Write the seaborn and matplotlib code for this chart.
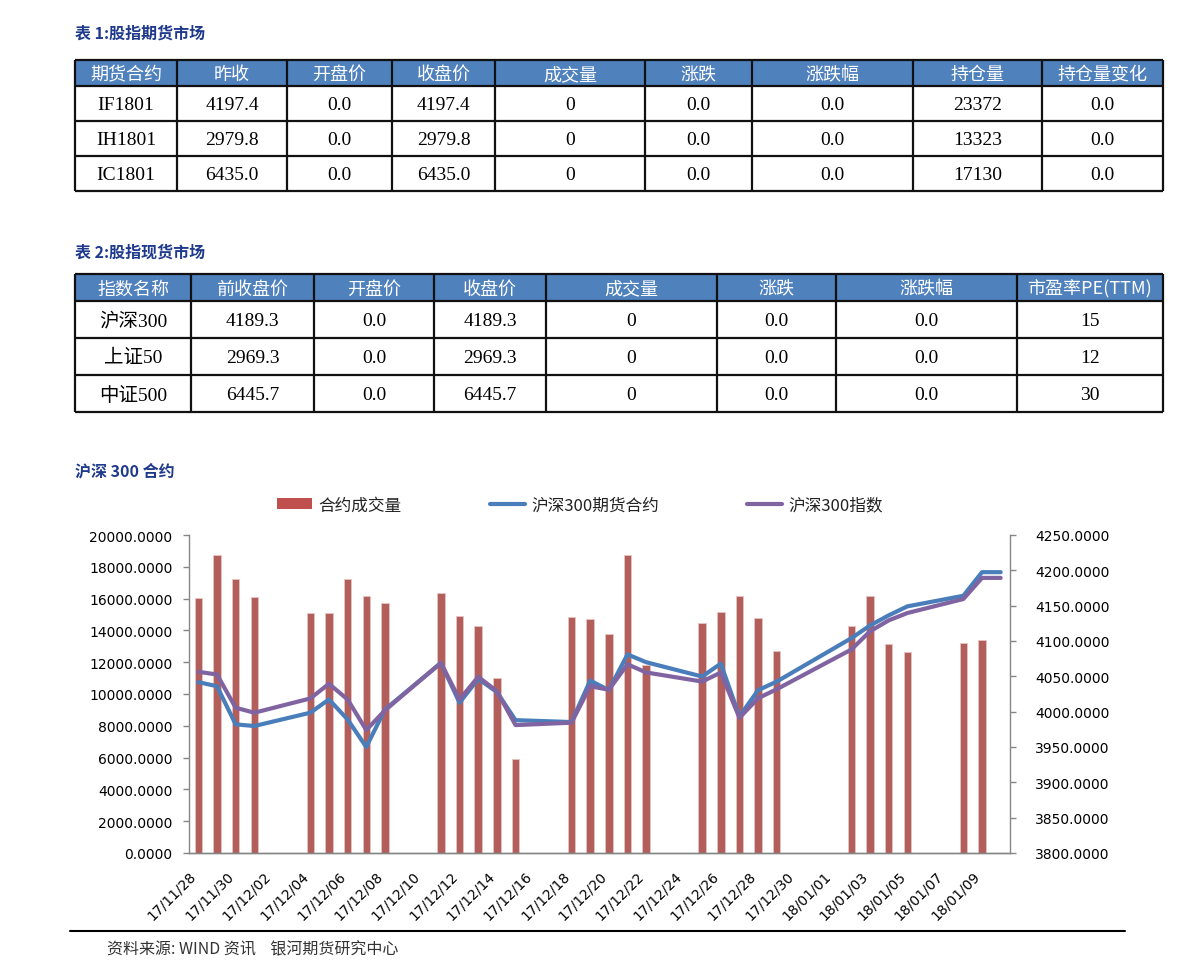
import numpy as np
import pandas as pd
import seaborn as sns
import matplotlib.pyplot as plt
from matplotlib.patches import Rectangle, Patch
from matplotlib.lines import Line2D

# ---- table data ----
t1_header = ["期货合约", "昨收", "开盘价", "收盘价", "成交量", "涨跌", "涨跌幅", "持仓量", "持仓量变化"]
t1_rows = [
    ["IF1801", "4197.4", "0.0", "4197.4", "0", "0.0", "0.0", "23372", "0.0"],
    ["IH1801", "2979.8", "0.0", "2979.8", "0", "0.0", "0.0", "13323", "0.0"],
    ["IC1801", "6435.0", "0.0", "6435.0", "0", "0.0", "0.0", "17130", "0.0"],
]
t2_header = ["指数名称", "前收盘价", "开盘价", "收盘价", "成交量", "涨跌", "涨跌幅", "市盈率PE(TTM)"]
t2_rows = [
    ["沪深300", "4189.3", "0.0", "4189.3", "0", "0.0", "0.0", "15"],
    ["上证50", "2969.3", "0.0", "2969.3", "0", "0.0", "0.0", "12"],
    ["中证500", "6445.7", "0.0", "6445.7", "0", "0.0", "0.0", "30"],
]

# ---- chart data ----
dates = ["2017-11-28", "2017-11-29", "2017-11-30", "2017-12-01",
         "2017-12-04", "2017-12-05", "2017-12-06", "2017-12-07", "2017-12-08",
         "2017-12-11", "2017-12-12", "2017-12-13", "2017-12-14", "2017-12-15",
         "2017-12-18", "2017-12-19", "2017-12-20", "2017-12-21", "2017-12-22",
         "2017-12-25", "2017-12-26", "2017-12-27", "2017-12-28", "2017-12-29",
         "2018-01-02", "2018-01-03", "2018-01-04", "2018-01-05",
         "2018-01-08", "2018-01-09", "2018-01-10"]
volume = [16040, 18760, 17240, 16130,
          15115, 15115, 17240, 16190, 15730,
          16380, 14925, 14270, 10995, 5916,
          14860, 14715, 13800, 18750, 11830,
          14440, 15160, 16150, 14760, 12690,
          14300, 16150, 13120, 12620,
          13180, 13370, 0]
futures = [4041.8, 4036.0, 3982.0, 3979.7,
           3998.5, 4017.3, 3989.0, 3950.0, 4003.0,
           4069.0, 4012.6, 4046.5, 4027.7, 3988.0,
           3985.3, 4044.0, 4030.5, 4081.0, 4070.0,
           4049.7, 4068.0, 3993.2, 4030.4, 4042.6,
           4104.0, 4122.0, 4136.3, 4149.0,
           4164.0, 4197.4, 4197.4]
index300 = [4056.4, 4052.6, 4005.6, 3998.5,
            4018.7, 4039.4, 4017.3, 3974.0, 4001.8,
            4069.0, 4017.3, 4049.3, 4029.0, 3981.0,
            3984.4, 4036.0, 4031.0, 4067.0, 4055.5,
            4042.6, 4055.3, 3991.3, 4019.0, 4031.8,
            4088.0, 4113.7, 4129.2, 4139.6,
            4159.4, 4189.3, 4189.3]

W, H = 1191, 978
NAVY = "#1F3A8C"
HEAD = "#4F81BD"
RED = "#C0504D"
BLUE = "#4A7EBB"
PURPLE = "#8064A2"
GRAY = "#868686"
CJK = ["Noto Sans CJK SC", "DejaVu Sans"]
SERIF = ["Liberation Serif", "Noto Sans CJK SC"]

sns.set_style("white")
plt.rcParams["font.family"] = ["DejaVu Sans", "Noto Sans CJK SC"]

fig = plt.figure(figsize=(W / 100, H / 100), dpi=100)


def px_axes(x0, y0, x1, y1):
    return fig.add_axes([x0 / W, 1 - y1 / H, (x1 - x0) / W, (y1 - y0) / H])


def draw_table(cols, rows_y, header, rows):
    ax = px_axes(cols[0], rows_y[0], cols[-1], rows_y[-1])
    ax.set_xlim(cols[0], cols[-1])
    ax.set_ylim(rows_y[-1], rows_y[0])
    ax.axis("off")
    ax.add_patch(Rectangle((cols[0], rows_y[0]), cols[-1] - cols[0], rows_y[1] - rows_y[0],
                           facecolor=HEAD, edgecolor="none"))
    ax.hlines(rows_y, cols[0], cols[-1], color="#111111", lw=1.6, clip_on=False)
    ax.vlines(cols, rows_y[0], rows_y[-1], color="#111111", lw=1.6, clip_on=False)
    for j, h in enumerate(header):
        ax.text((cols[j] + cols[j + 1]) / 2, (rows_y[0] + rows_y[1]) / 2 + 1, h,
                ha="center", va="center", color="white", fontsize=13, family=CJK)
    for i, row in enumerate(rows):
        for j, v in enumerate(row):
            ax.text((cols[j] + cols[j + 1]) / 2, (rows_y[i + 1] + rows_y[i + 2]) / 2 + 1, v,
                    ha="center", va="center", color="black", fontsize=14, family=SERIF)
    return ax


# titles
fig.text(75 / W, 1 - 34 / H, "表 1:股指期货市场", fontsize=11.5, weight="bold", color=NAVY,
         family=CJK, va="center")
fig.text(75 / W, 1 - 253 / H, "表 2:股指现货市场", fontsize=11.5, weight="bold", color=NAVY,
         family=CJK, va="center")
fig.text(75 / W, 1 - 471 / H, "沪深 300 合约", fontsize=11.5, weight="bold", color=NAVY,
         family=CJK, va="center")

draw_table([75, 177, 287, 392, 495, 645, 752, 913, 1042, 1163], [61, 87, 122, 157, 192],
           t1_header, t1_rows)
draw_table([75, 191, 314, 434, 546, 717, 836, 1017, 1163], [275, 302, 339, 376, 413],
           t2_header, t2_rows)

# ---- combo chart ----
d = pd.to_datetime(dates)
start = pd.Timestamp("2017-11-28")
day = (d - start).days.values + 0.5
df = pd.DataFrame({"day": day, "volume": volume, "futures": futures, "index": index300})

ax = px_axes(189, 536, 1010, 854)
sns.barplot(data=df, x="day", y="volume", native_scale=True, width=0.4, color=RED,
            edgecolor="#E8C4C3", linewidth=0.6, errorbar=None, ax=ax)
ax.set_xlim(0, 44)
ax.set_ylim(0, 20000)
ax.set_yticks(np.arange(0, 20001, 2000))
ax.set_yticklabels([f"{v:.4f}" for v in np.arange(0, 20001, 2000)])
ticks = np.arange(0, 45, 2)
ax.set_xticks(ticks)
labels = [(start + pd.Timedelta(days=int(t))).strftime("%y/%m/%d") for t in ticks]
labels[-1] = ""
ax.set_xticklabels(labels, rotation=45, ha="right", rotation_mode="anchor")
ax.set_xlabel("")
ax.set_ylabel("")

ax2 = ax.twinx()
sns.lineplot(data=df, x="day", y="futures", color=BLUE, lw=3.0, ax=ax2)
sns.lineplot(data=df, x="day", y="index", color=PURPLE, lw=3.0, ax=ax2)
ax2.set_ylim(3800, 4250)
ax2.set_yticks(np.arange(3800, 4251, 50))
ax2.set_yticklabels([f"{v:.4f}" for v in np.arange(3800, 4251, 50)])
ax2.set_ylabel("")
ax2.set_xlim(0, 44)

for a in (ax, ax2):
    a.spines["top"].set_visible(False)
    for s in ("left", "right", "bottom"):
        a.spines[s].set_color(GRAY)
        a.spines[s].set_linewidth(1.0)
    a.tick_params(colors=GRAY, labelcolor="black", labelsize=10, length=4, width=1.0,
                  direction="out")
    a.grid(False)
ax.spines["right"].set_visible(False)
ax2.spines["left"].set_visible(False)
ax.tick_params(axis="y", pad=8)
ax2.tick_params(axis="y", pad=14)
ax.tick_params(axis="x", pad=7)

handles = [Patch(facecolor=RED, edgecolor="none"),
           Line2D([], [], color=BLUE, lw=3.0),
           Line2D([], [], color=PURPLE, lw=3.0)]
fig.legend(handles, ["合约成交量", "沪深300期货合约", "沪深300指数"], loc="center",
           bbox_to_anchor=(580 / W, 1 - 506 / H), ncol=3, frameon=False,
           prop={"family": CJK, "size": 12}, handlelength=2.1, handleheight=0.6,
           handletextpad=0.36, columnspacing=5.3, labelcolor="#222222")

# footer
fig.add_artist(Line2D([70 / W, 1125 / W], [1 - 932 / H, 1 - 932 / H], color="black", lw=1.5))
fig.text(107 / W, 1 - 950 / H, "资料来源: WIND 资讯    银河期货研究中心", fontsize=11.5,
         color="#333333", family=CJK, va="center")

fig.savefig("out.png", dpi=100)
